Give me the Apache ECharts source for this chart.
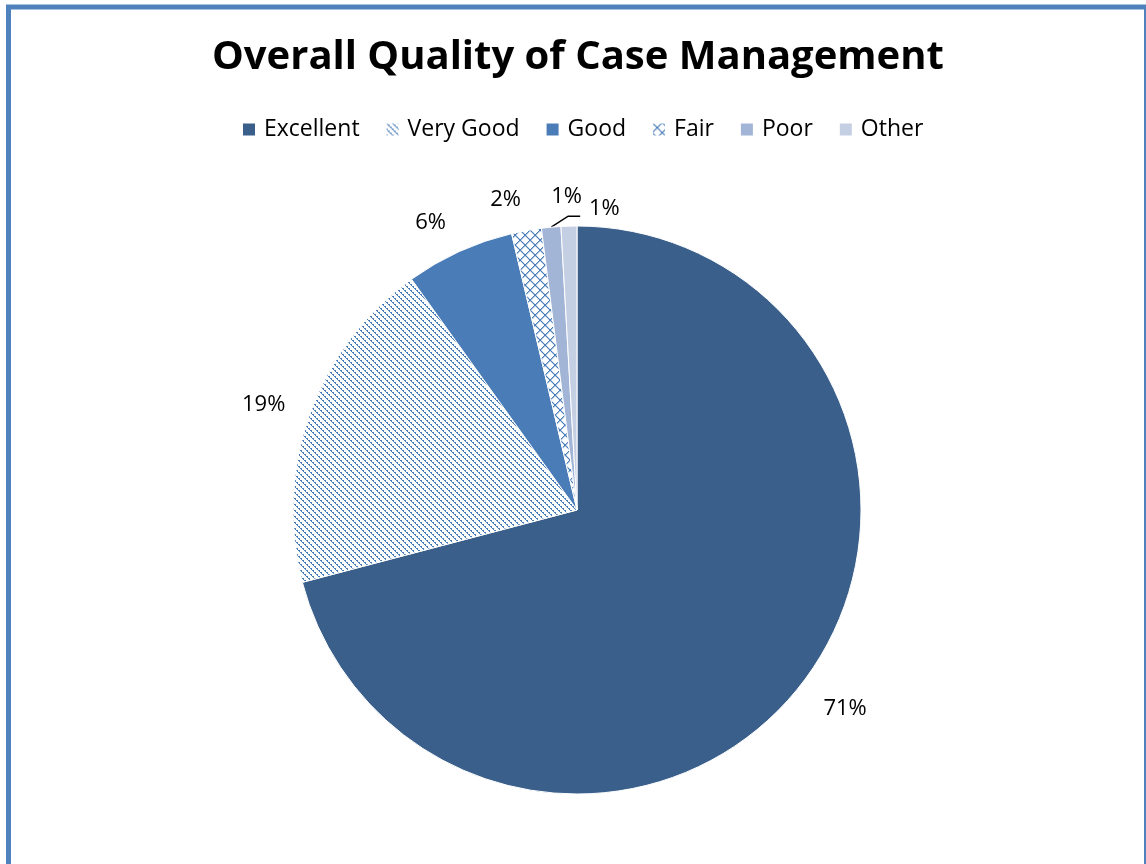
<!DOCTYPE html>
<html>
<head>
<meta charset="utf-8">
<script src="https://cdn.jsdelivr.net/npm/echarts@6/dist/echarts.min.js"></script>
<style>
html,body{margin:0;padding:0;background:#fff;}
#chart{width:1146px;height:864px;}
</style>
</head>
<body>
<div id="chart"></div>
<script>
const titleText = 'Overall Quality of Case Management';
const categories = ['Excellent', 'Very Good', 'Good', 'Fair', 'Poor', 'Other'];
const values = [70.9, 19.2, 6.2, 1.7, 1.1, 0.9];

function hatchVeryGood() {
  const c = document.createElement('canvas');
  c.width = 6; c.height = 6;
  const g = c.getContext('2d');
  g.fillStyle = '#ffffff'; g.fillRect(0, 0, 6, 6);
  g.fillStyle = '#4a7ebb';
  for (let i = 0; i < 6; i++) {
    g.fillRect(i, i, 1, 1);
    if (i % 2 === 0) g.fillRect((i + 1) % 6, i, 1, 1);
  }
  return c;
}
function hatchFair() {
  const c = document.createElement('canvas');
  c.width = 10; c.height = 10;
  const g = c.getContext('2d');
  g.fillStyle = '#ffffff'; g.fillRect(0, 0, 10, 10);
  g.fillStyle = '#4a7ebb';
  for (let i = 0; i < 10; i++) {
    g.fillRect(i, i, 1.3, 1.3);
    g.fillRect(9 - i, i, 1.3, 1.3);
  }
  return c;
}

const colors = [
  '#3a5f8b',
  { image: hatchVeryGood(), repeat: 'repeat' },
  '#4a7db8',
  { image: hatchFair(), repeat: 'repeat' },
  '#a3b5d6',
  '#c5cfe4'
];
const lineLengths = [36, 26, 32, 31, 30, 30];

const data = categories.map((name, i) => ({
  name: name,
  value: values[i],
  itemStyle: { color: colors[i] },
  labelLine: {
    length: lineLengths[i],
    lineStyle: { color: i === 4 ? '#000000' : 'rgba(0,0,0,0)' }
  }
}));

const chart = echarts.init(document.getElementById('chart'), null, { renderer: 'canvas' });
chart.setOption({
  animation: false,
  backgroundColor: '#ffffff',
  title: {
    text: titleText,
    left: 207,
    top: 33,
    textStyle: { fontFamily: 'Open Sans', fontWeight: 'bold', fontSize: 40, color: '#000' }
  },
  legend: {
    top: 113,
    left: 236,
    itemWidth: 14,
    itemHeight: 14,
    itemGap: 25,
    icon: 'rect',
    textStyle: { fontFamily: 'Open Sans', fontSize: 23, color: '#000', padding: [0, 0, 0, 3] },
    data: categories
  },
  graphic: [{
    type: 'rect',
    shape: { x: 8.5, y: 7, width: 1138, height: 900 },
    style: { fill: null, stroke: '#4f81bd', lineWidth: 5 },
    silent: true
  }],
  series: [{
    type: 'pie',
    center: [577, 510],
    radius: 284,
    startAngle: 90,
    clockwise: true,
    avoidLabelOverlap: false,
    itemStyle: { borderColor: '#ffffff', borderWidth: 1 },
    label: {
      show: true,
      position: 'outside',
      distanceToLabelLine: 0,
      formatter: p => Math.round(p.percent) + '%',
      fontFamily: 'Open Sans',
      fontSize: 22,
      color: '#000'
    },
    labelLine: { show: true, length: 30, length2: 0, lineStyle: { width: 1.5 } },
    labelLayout: function (params) {
      const pts = params.labelLinePoints;
      if (!pts) return {};
      const p0 = pts[0];
      if (params.dataIndex === 0) {
        return { dx: -7, dy: 3 };
      }
      if (params.dataIndex === 4) {
        return {
          x: p0[0], y: p0[1] - 30, align: 'left', verticalAlign: 'middle',
          labelLinePoints: [[p0[0], p0[1]], [p0[0] + 17, p0[1] - 11], [p0[0] + 29, p0[1] - 11]]
        };
      }
      if (params.dataIndex === 5) {
        return { x: p0[0] + 20, y: p0[1] - 17, align: 'left', verticalAlign: 'middle' };
      }
      return {};
    },
    emphasis: { disabled: true },
    data: data
  }]
});
</script>
</body>
</html>
